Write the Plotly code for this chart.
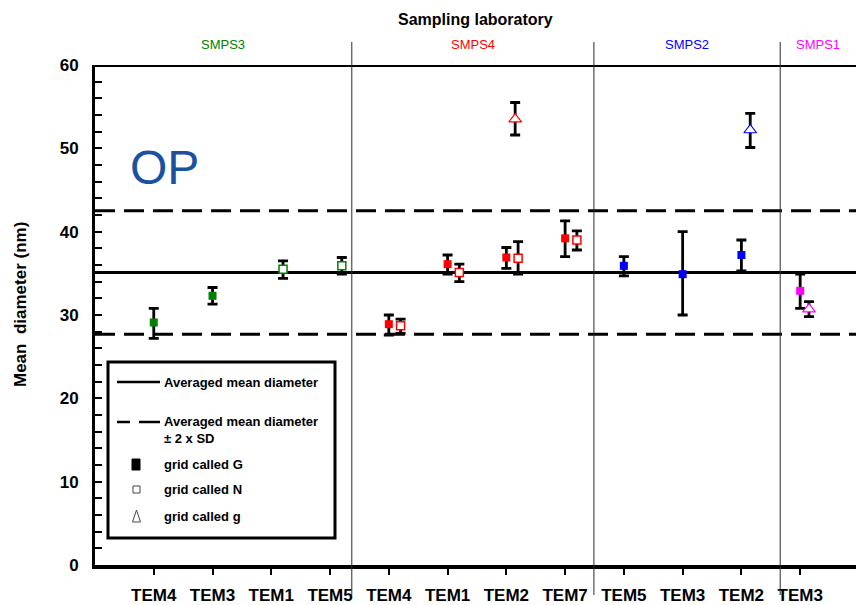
import plotly.graph_objects as go

# ---------------- data ----------------
CATEGORIES = ["TEM4", "TEM3", "TEM1", "TEM5",
              "TEM4", "TEM1", "TEM2", "TEM7",
              "TEM5", "TEM3", "TEM2",
              "TEM3"]
LABS = ["SMPS3", "SMPS4", "SMPS2", "SMPS1"]

# reference statistics (nm)
AVG_MEAN = 35.1
AVG_LOW = 27.7    # mean - 2 SD
AVG_HIGH = 42.5   # mean + 2 SD

# each series: category index (1-based), mean diameter, +error, -error
S3_G_CAT = [1, 2]
S3_G_MEAN = [29.1, 32.3]
S3_G_UP = [1.7, 1.0]
S3_G_DN = [1.9, 1.0]

S3_N_CAT = [3, 4]
S3_N_MEAN = [35.5, 35.9]
S3_N_UP = [1.0, 1.0]
S3_N_DN = [1.1, 1.0]

S4_G_CAT = [5, 6, 7, 8]
S4_G_MEAN = [28.9, 36.1, 36.9, 39.2]
S4_G_UP = [1.1, 1.1, 1.2, 2.1]
S4_G_DN = [1.3, 1.2, 1.3, 2.2]

S4_N_CAT = [5, 6, 7, 8]
S4_N_MEAN = [28.7, 35.1, 36.8, 39.0]
S4_N_UP = [0.8, 1.0, 2.0, 1.1]
S4_N_DN = [0.9, 1.1, 1.9, 1.2]

S4_g_CAT = [7]
S4_g_MEAN = [53.5]
S4_g_UP = [2.0]
S4_g_DN = [1.9]

S2_G_CAT = [9, 10, 11]
S2_G_MEAN = [35.9, 34.9, 37.2]
S2_G_UP = [1.1, 5.1, 1.8]
S2_G_DN = [1.2, 4.9, 1.9]

S2_g_CAT = [11]
S2_g_MEAN = [52.2]
S2_g_UP = [2.0]
S2_g_DN = [2.1]

S1_G_CAT = [12]
S1_G_MEAN = [32.9]
S1_G_UP = [2.0]
S1_G_DN = [2.1]

S1_g_CAT = [12]
S1_g_MEAN = [30.7]
S1_g_UP = [0.9]
S1_g_DN = [0.9]

SERIES = [
    ("SMPS3", "G", S3_G_CAT, S3_G_MEAN, S3_G_UP, S3_G_DN),
    ("SMPS3", "N", S3_N_CAT, S3_N_MEAN, S3_N_UP, S3_N_DN),
    ("SMPS4", "G", S4_G_CAT, S4_G_MEAN, S4_G_UP, S4_G_DN),
    ("SMPS4", "N", S4_N_CAT, S4_N_MEAN, S4_N_UP, S4_N_DN),
    ("SMPS4", "g", S4_g_CAT, S4_g_MEAN, S4_g_UP, S4_g_DN),
    ("SMPS2", "G", S2_G_CAT, S2_G_MEAN, S2_G_UP, S2_G_DN),
    ("SMPS2", "g", S2_g_CAT, S2_g_MEAN, S2_g_UP, S2_g_DN),
    ("SMPS1", "G", S1_G_CAT, S1_G_MEAN, S1_G_UP, S1_G_DN),
    ("SMPS1", "g", S1_g_CAT, S1_g_MEAN, S1_g_UP, S1_g_DN),
]

# ---------------- styling ----------------
LAB_COLORS = {"SMPS3": "#008000", "SMPS4": "#ff0000",
              "SMPS2": "#0000ff", "SMPS1": "#ff00ff"}
GRID_OFFSET = {"G": 0.0, "N": 0.2, "g": 0.15}
FONT = "Liberation Sans, Arial, sans-serif"

W, H = 856, 605
ML, MR, MT, MB = 95, 0, 65, 40
PW, PH = W - ML - MR, H - MT - MB
XMAX = 12.95
GROUP_EDGES = [4.37, 8.49, 11.66]   # lab separators along x


def px_x(px):
    return (px - ML) / PW


def px_y(py):
    return (H - MB - py) / PH


fig = go.Figure()

for lab, grid, cat, mean, up, dn in SERIES:
    col = LAB_COLORS[lab]
    if grid == "G":
        marker = dict(symbol="square", size=8, color=col,
                      line=dict(width=0))
    elif grid == "N":
        marker = dict(symbol="square", size=8, color="white",
                      line=dict(width=1.5, color=col))
    else:
        marker = dict(symbol="triangle-up", size=11, color="white",
                      line=dict(width=1.2, color=col))
    fig.add_trace(go.Scatter(
        x=[c + GRID_OFFSET[grid] for c in cat], y=mean,
        mode="markers", marker=marker, showlegend=False,
        error_y=dict(type="data", symmetric=False, array=up, arrayminus=dn,
                     color="black", thickness=2.8, width=5),
        name=f"{lab} grid {grid}",
    ))

shapes = []
# top frame line
shapes.append(dict(type="line", xref="paper", yref="y", x0=0, x1=1,
                   y0=60, y1=60, line=dict(color="black", width=4)))
# averaged mean and +/- 2 SD
shapes.append(dict(type="line", xref="paper", yref="y", x0=0, x1=1,
                   y0=AVG_MEAN, y1=AVG_MEAN, line=dict(color="black", width=3),
                   layer="below"))
for yv in (AVG_LOW, AVG_HIGH):
    shapes.append(dict(type="line", xref="paper", yref="y", x0=0, x1=1,
                       y0=yv, y1=yv,
                       line=dict(color="black", width=3, dash="20px,9px"),
                       layer="below"))
# lab separators
for xe in GROUP_EDGES:
    shapes.append(dict(type="line", xref="x", yref="paper", x0=xe, x1=xe,
                       y0=px_y(595), y1=px_y(42),
                       line=dict(color="#2a2a2a", width=1)))

# legend box
shapes.append(dict(type="rect", xref="paper", yref="paper",
                   x0=px_x(108), x1=px_x(335), y0=px_y(538), y1=px_y(362),
                   fillcolor="white", line=dict(color="black", width=3)))
shapes.append(dict(type="line", xref="paper", yref="paper",
                   x0=px_x(117), x1=px_x(160), y0=px_y(382), y1=px_y(382),
                   line=dict(color="black", width=2.5)))
for a, b in ((117, 130), (139, 160)):
    shapes.append(dict(type="line", xref="paper", yref="paper",
                       x0=px_x(a), x1=px_x(b), y0=px_y(422), y1=px_y(422),
                       line=dict(color="black", width=2.5)))
shapes.append(dict(type="rect", xref="paper", yref="paper",
                   x0=px_x(132), x1=px_x(140), y0=px_y(470), y1=px_y(459),
                   fillcolor="black", line=dict(color="black", width=1)))
shapes.append(dict(type="rect", xref="paper", yref="paper",
                   x0=px_x(133), x1=px_x(140), y0=px_y(493), y1=px_y(486),
                   fillcolor="white", line=dict(color="#444", width=1)))
tri = "M {} {} L {} {} L {} {} Z".format(
    px_x(132.5), px_y(522), px_x(140.5), px_y(522), px_x(136.5), px_y(510))
shapes.append(dict(type="path", xref="paper", yref="paper", path=tri,
                   fillcolor="white", line=dict(color="#444", width=1)))

annotations = []
legend_text = [
    (382, "Averaged mean diameter"),
    (421, "Averaged mean diameter"),
    (438, "± 2 x SD"),
    (464, "grid called G"),
    (489, "grid called N"),
    (516, "grid called g"),
]
for py, txt in legend_text:
    annotations.append(dict(xref="paper", yref="paper", x=px_x(162), y=px_y(py),
                            xanchor="left", yanchor="middle", showarrow=False,
                            text=f"<b>{txt}</b>",
                            font=dict(family=FONT, size=13, color="black")))

# lab names centred between the separators
edges_px = [ML] + [ML + e * PW / XMAX for e in GROUP_EDGES] + [W]
for i, lab in enumerate(LABS):
    cx = (edges_px[i] + edges_px[i + 1]) / 2
    annotations.append(dict(xref="paper", yref="paper", x=px_x(cx), y=px_y(45),
                            xanchor="center", yanchor="middle", showarrow=False,
                            text=lab,
                            font=dict(family=FONT, size=13, color=LAB_COLORS[lab])))

annotations.append(dict(xref="paper", yref="paper", x=px_x(475), y=px_y(20),
                        xanchor="center", yanchor="middle", showarrow=False,
                        text="<b>Sampling laboratory</b>",
                        font=dict(family=FONT, size=16, color="black")))
annotations.append(dict(xref="paper", yref="paper", x=px_x(20), y=px_y(305),
                        xanchor="center", yanchor="middle", showarrow=False,
                        textangle=-90, text="<b>Mean  diameter (nm)</b>",
                        font=dict(family=FONT, size=17, color="black")))
annotations.append(dict(xref="paper", yref="paper", x=px_x(164), y=px_y(167),
                        xanchor="center", yanchor="middle", showarrow=False,
                        text="OP",
                        font=dict(family=FONT, size=48, color="#1a52a0")))

fig.update_layout(
    width=W, height=H,
    margin=dict(l=ML, r=MR, t=MT, b=MB, autoexpand=False),
    paper_bgcolor="white", plot_bgcolor="white",
    showlegend=False,
    shapes=shapes, annotations=annotations,
    xaxis=dict(range=[0, XMAX], tickmode="array", automargin=False,
               tickvals=list(range(1, len(CATEGORIES) + 1)),
               ticktext=[f"<b>{c}</b>" for c in CATEGORIES],
               ticks="outside", ticklen=6, tickwidth=2, tickcolor="black",
               ticklabelstandoff=6,
               tickfont=dict(family=FONT, size=17, color="black"),
               showline=True, linecolor="black", linewidth=4,
               showgrid=False, zeroline=False, fixedrange=True),
    yaxis=dict(range=[0, 60], tickmode="array", automargin=False,
               tickvals=[0, 10, 20, 30, 40, 50, 60],
               ticktext=[f"<b>{v}</b>" for v in [0, 10, 20, 30, 40, 50, 60]],
               ticks="inside", ticklen=7, tickwidth=2, tickcolor="black",
               minor=dict(dtick=2, tick0=0, ticks="inside", ticklen=7,
                          tickwidth=2, tickcolor="black"),
               ticklabelstandoff=10,
               tickfont=dict(family=FONT, size=17, color="black"),
               showline=True, linecolor="black", linewidth=3,
               showgrid=False, zeroline=False, fixedrange=True),
)

fig.write_html("out.html")
